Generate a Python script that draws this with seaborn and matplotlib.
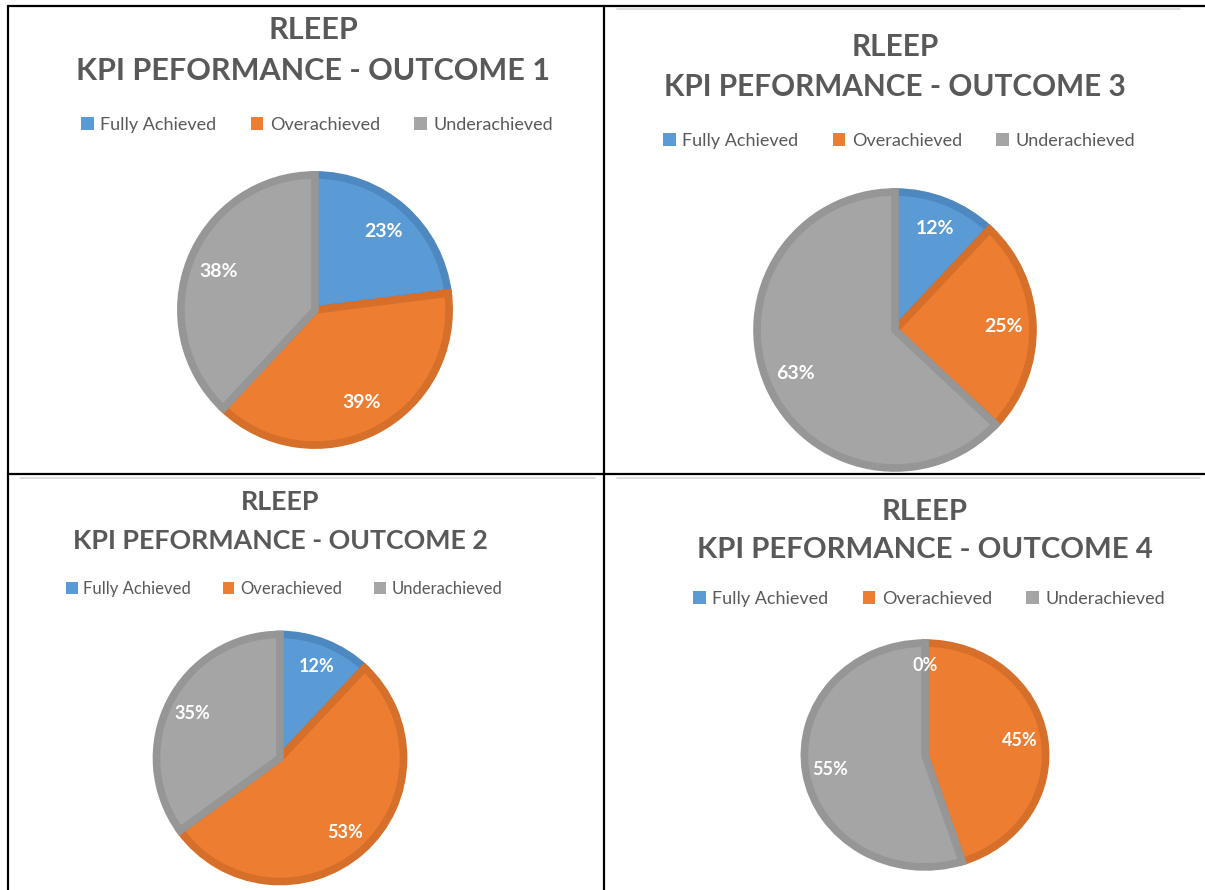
import matplotlib
matplotlib.use('Agg')
import matplotlib.pyplot as plt
import seaborn as sns
from matplotlib.patches import Patch
from matplotlib.lines import Line2D

categories = ['Fully Achieved', 'Overachieved', 'Underachieved']
outcome_1 = [23, 39, 38]
outcome_2 = [12, 53, 35]
outcome_3 = [12, 25, 63]
outcome_4 = [0, 45, 55]

sns.set_theme(style='white')
plt.rcParams['font.family'] = ['Lato', 'DejaVu Sans']

fill_colors = sns.color_palette(['#5B9BD5', '#ED7D31', '#A5A5A5'])
edge_colors = ['#4D88C1', '#D66F2A', '#969696']
text_grey = '#595959'

W, H = 1205, 890
fig = plt.figure(figsize=(W / 100, H / 100), dpi=100)


def fx(x):
    return x / W


def fy(y):
    return 1 - y / H


# one entry per panel: values, outcome no, title x, title rows y, title size,
# legend y, legend size, pie centre, pie radii, label size, label distance
panels = [
    (outcome_1, 1, 313, 30, 71, 22, 125, 13, (315, 310), (139, 140), 14, 0.77),
    (outcome_3, 3, 895, 47, 87, 21.4, 141, 13, (895, 330), (143, 143), 14, 0.79),
    (outcome_2, 2, 280, 502, 541, 19.3, 589, 12, (280, 758), (128, 128), 13, 0.80),
    (outcome_4, 4, 925, 512, 550, 21.2, 599, 13, (925, 755), (125, 116), 13, 0.80),
]

for vals, num, tx, ty1, ty2, tsize, ly, lsize, (cx, cy), (rx, ry), psize, pd_ in panels:
    fig.text(fx(tx), fy(ty1), 'RLEEP', ha='center', va='center',
             fontsize=tsize, fontweight='bold', color=text_grey)
    fig.text(fx(tx), fy(ty2), f'KPI PEFORMANCE - OUTCOME {num}', ha='center',
             va='center', fontsize=tsize, fontweight='bold', color=text_grey)

    ax = fig.add_axes([fx(cx - rx), fy(cy + ry), 2 * rx / W, 2 * ry / H])
    wedges, _, autotexts = ax.pie(
        vals, colors=fill_colors, startangle=90, counterclock=False,
        autopct='%.0f%%', pctdistance=pd_, radius=0.965,
        wedgeprops=dict(linewidth=5.5, clip_on=False),
        textprops=dict(color='white', fontsize=psize, fontweight='bold'))
    for w, ec, v in zip(wedges, edge_colors, vals):
        w.set_edgecolor(ec)
        if v == 0:
            w.set_linewidth(0)
    ax.set_aspect('auto')
    ax.set_xlim(-1, 1)
    ax.set_ylim(-1, 1)
    ax.axis('off')

    handles = [Patch(facecolor=c, edgecolor='none', label=lab)
               for c, lab in zip(fill_colors, categories)]
    fig.legend(handles=handles, loc='center', ncol=3, frameon=False,
               bbox_to_anchor=(fx(tx + 4), fy(ly)), fontsize=lsize,
               handlelength=0.7, handleheight=0.7, handletextpad=0.35,
               columnspacing=1.9, labelcolor=text_grey)

# table rules around the four charts
rules = [
    ((8, 8), (6, 890)),
    ((8, 1205), (6, 6)),
    ((604, 604), (6, 890)),
    ((8, 1205), (474, 474)),
]
for xs, ys in rules:
    fig.add_artist(Line2D([fx(x) for x in xs], [fy(y) for y in ys],
                          transform=fig.transFigure, color='black', lw=1.6))
for xs, ys in [((20, 595), (478, 478)), ((617, 1180), (9, 9)), ((617, 1200), (478, 478))]:
    fig.add_artist(Line2D([fx(x) for x in xs], [fy(y) for y in ys],
                          transform=fig.transFigure, color='#d9d9d9', lw=1.2))

fig.savefig('out.png', dpi=100)
